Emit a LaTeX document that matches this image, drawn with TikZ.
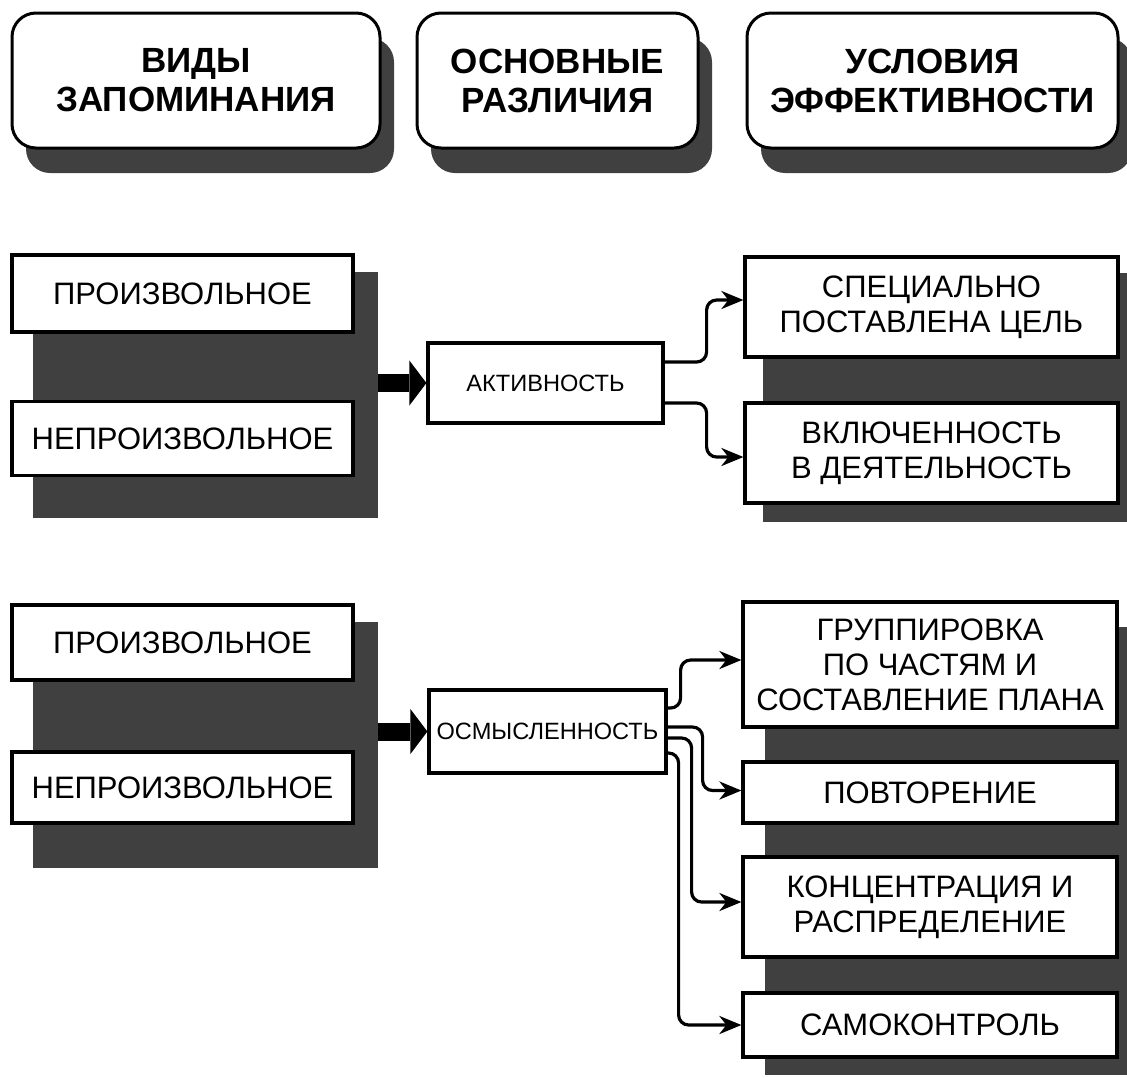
\documentclass[tikz,border=0pt]{standalone}
\usepackage{fontspec}
\setmainfont{Liberation Sans}
\usetikzlibrary{arrows.meta,shadows}

\begin{document}
\begin{tikzpicture}[x=0.5pt,y=-0.5pt]
\tikzset{head/.style={draw, line width=1.5pt, rounded corners=12pt, fill=white,
  align=center, inner sep=0pt, minimum height=67.5pt,
  font=\bfseries\fontsize{17.5}{19.5}\selectfont,
  drop shadow={shadow xshift=7pt, shadow yshift=-12.5pt, fill=black!75, opacity=1}}}
\tikzset{box/.style={draw, line width=1.6pt, fill=white, align=center, inner sep=0pt,
  font=\fontsize{15.5}{17.5}\selectfont}}
\tikzset{small/.style={font=\fontsize{11.8}{13}\selectfont}}
\tikzset{shadowbg/.style={fill=black!75, inner sep=0pt}}
\tikzset{conn/.style={draw, line width=1.6pt, rounded corners=5pt,
  -{Stealth[length=11pt,width=9pt,inset=3.5pt]}}}
\tikzset{bigarrow/.style={line width=9pt, -{Triangle[length=8.5pt,width=22.5pt,line width=0pt 0]}}}
\useasboundingbox (0,0) rectangle (1127,1077);

% headers
\node[head, minimum width=184pt] (vidy) at (196,80.5) {ВИДЫ\\ЗАПОМИНАНИЯ};
\node[head, minimum width=140.5pt] (razl) at (557.5,80.5) {ОСНОВНЫЕ\\РАЗЛИЧИЯ};
\node[head, minimum width=185.5pt] (usl) at (932.5,80.5) {УСЛОВИЯ\\ЭФФЕКТИВНОСТИ};

% first row
\node[shadowbg, minimum width=172.5pt, minimum height=123pt] (sh1) at (205.5,395) {};
\node[shadowbg, minimum width=182pt, minimum height=124.5pt] (sh2) at (945,397.5) {};
\node[box, minimum width=170.5pt, minimum height=38.5pt] (pr1) at (182.5,293.5) {ПРОИЗВОЛЬНОЕ};
\node[box, minimum width=170.5pt, minimum height=37pt] (np1) at (182.5,438.5) {НЕПРОИЗВОЛЬНОЕ};
\node[box, small, minimum width=117.5pt, minimum height=40pt] (akt) at (545.5,383) {АКТИВНОСТЬ};
\node[box, minimum width=186.5pt, minimum height=50pt] (spec) at (931.5,307) {СПЕЦИАЛЬНО\\ПОСТАВЛЕНА ЦЕЛЬ};
\node[box, minimum width=186.5pt, minimum height=50pt] (vkl) at (931.5,453) {ВКЛЮЧЕННОСТЬ\\В ДЕЯТЕЛЬНОСТЬ};
\draw[bigarrow] (sh1.east |- akt.west) -- (akt.west);
\draw[conn] ([yshift=10.5pt]akt.east) -- ++(21pt,0) |- ([yshift=3.5pt]spec.west);
\draw[conn] ([yshift=-10pt]akt.east) -- ++(21pt,0) |- ([yshift=-2pt]vkl.west);

% second row
\node[shadowbg, minimum width=172.5pt, minimum height=123pt] (sh3) at (205.5,745) {};
\node[shadowbg, minimum width=181pt, minimum height=224pt] (sh4) at (946,851) {};
\node[box, minimum width=170.5pt, minimum height=37.5pt] (pr2) at (182.5,642.5) {ПРОИЗВОЛЬНОЕ};
\node[box, minimum width=170.5pt, minimum height=35.5pt] (np2) at (182.5,787.5) {НЕПРОИЗВОЛЬНОЕ};
\node[box, small, minimum width=118.5pt, minimum height=41.5pt] (osm) at (547.5,731.5) {ОСМЫСЛЕННОСТЬ};
\node[box, minimum width=187pt, minimum height=62.5pt] (grp) at (930,664.5) {ГРУППИРОВКА\\ПО ЧАСТЯМ И\\СОСТАВЛЕНИЕ ПЛАНА};
\node[box, minimum width=187pt, minimum height=30.5pt] (pov) at (930,792.5) {ПОВТОРЕНИЕ};
\node[box, minimum width=187pt, minimum height=50pt] (konc) at (930,907) {КОНЦЕНТРАЦИЯ И\\РАСПРЕДЕЛЕНИЕ};
\node[box, minimum width=187pt, minimum height=32pt] (sam) at (930,1025) {САМОКОНТРОЛЬ};
\draw[bigarrow] (sh3.east |- osm.west) -- (osm.west);
\draw[conn] ([yshift=11.75pt]osm.east) -- ++(6.5pt,0) |- ([yshift=2.25pt]grp.west);
\draw[conn] ([yshift=2.25pt]osm.east) -- ++(17.5pt,0) |- ([yshift=1pt]pov.west);
\draw[conn] ([yshift=-3.25pt]osm.east) -- ++(12pt,0) |- ([yshift=2.5pt]konc.west);
\draw[conn] ([yshift=-10.75pt]osm.east) -- ++(5.5pt,0) |- (sam.west);
\end{tikzpicture}
\end{document}
